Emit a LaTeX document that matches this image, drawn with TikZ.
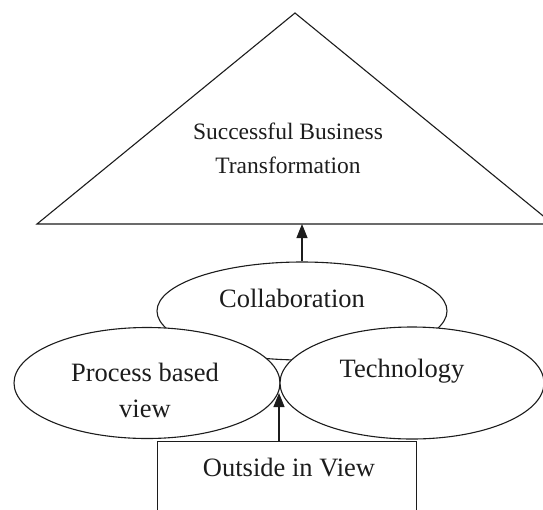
\documentclass[tikz,border=0pt]{standalone}
\usepackage{fontspec}
\setmainfont{Liberation Serif}
\usepackage{xcolor}
\usetikzlibrary{arrows.meta,positioning,shapes.geometric}
\definecolor{Ink}{HTML}{1C1C1C}
\tikzset{
  frame/.style={draw=Ink,line width=1.1pt},
  blob/.style={ellipse,frame,fill=white,inner sep=0pt},
  txt/.style={font=\fontsize{26.5}{36}\selectfont,align=center,text=Ink,inner sep=0pt},
  arrow/.style={-{Triangle[length=14pt,width=11pt]},line width=1.1pt,draw=Ink}
}

\begin{document}
\begin{tikzpicture}[x=1pt,y=-1pt]
  \useasboundingbox (0,0) rectangle (543,509);
  \clip (0,0) rectangle (543,509);
  % goal pyramid, its right corner runs off the page
  \coordinate (apex) at (295,13);
  \coordinate (baseL) at (37,224);
  \coordinate (baseR) at (553,224);
  \draw[frame,line join=miter] (baseL) -- (apex) -- (baseR) -- cycle;
  \node[txt,font=\fontsize{23.5}{34}\selectfont] (goal) at (288,148) {Successful Business\\Transformation};
  % three pillars
  \node[blob,minimum width=290pt,minimum height=98pt] (collab) at (302,311) {};
  \node[blob,minimum width=266pt,minimum height=111pt] (process) at (147,383) {};
  \node[blob,minimum width=264pt,minimum height=112pt] (tech) at (412,383) {};
  \node[txt,anchor=base] (collabtxt) at (292,307) {Collaboration};
  \node[txt] (processtxt) at (145,390) {Process based\\view};
  \node[txt,anchor=base] (techtxt) at (402,377) {Technology};
  % base box
  \node[frame,minimum width=259pt,minimum height=140pt,anchor=north] (outside) at (287,441) {};
  \node[txt,anchor=base] (outsidetxt) at (289,476) {Outside in View};
  \coordinate (meet) at (279,393);
  \draw[arrow] (outside.north -| meet) -- (meet);
  \draw[arrow] (collab.north) -- (collab.north |- baseL);
\end{tikzpicture}
\end{document}
